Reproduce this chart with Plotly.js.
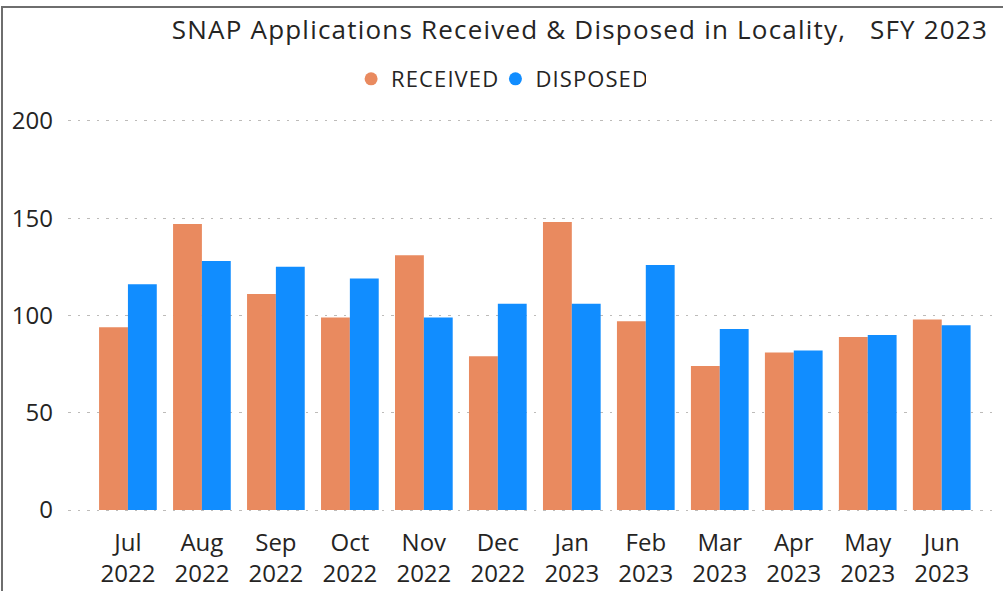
<!DOCTYPE html>
<html>
<head>
<meta charset="utf-8">
<script src="https://cdn.plot.ly/plotly-3.0.1.min.js"></script>
<style>
  html, body { margin: 0; padding: 0; background: #ffffff; }
  #wrap { position: relative; width: 1003px; height: 591px; overflow: hidden; }
  #chart { width: 1003px; height: 591px; }
  #bt { position: absolute; left: 1px; top: 6px; width: 1002px; height: 2px; background: #6e6e6e; }
  #bl { position: absolute; left: 1px; top: 6px; width: 2px; height: 585px; background: #6e6e6e; }
  #chart .gtitle { letter-spacing: 1.2px; }
  #chart .legendtext { letter-spacing: 1.1px; }
</style>
</head>
<body>
<div id="wrap">
  <div id="chart"></div>
  <div id="bt"></div>
  <div id="bl"></div>
</div>
<script>
const months = ["Jul<br>2022","Aug<br>2022","Sep<br>2022","Oct<br>2022","Nov<br>2022","Dec<br>2022",
                "Jan<br>2023","Feb<br>2023","Mar<br>2023","Apr<br>2023","May<br>2023","Jun<br>2023"];
const received = [94, 147, 111, 99, 131, 79, 148, 97, 74, 81, 89, 98];
const disposed = [116, 128, 125, 119, 99, 106, 106, 126, 93, 82, 90, 95];
const seriesNames = ["RECEIVED", "DISPOSED"];
const colors = ["#E98A5F", "#118DFF"];

const FONT = "Open Sans, Segoe UI, sans-serif";

const traces = [
  { type: "bar", x: months, y: received, name: seriesNames[0], marker: { color: colors[0] },
    showlegend: false, hoverinfo: "y" },
  { type: "bar", x: months, y: disposed, name: seriesNames[1], marker: { color: colors[1] },
    showlegend: false, hoverinfo: "y" },
  { type: "scatter", mode: "markers", x: [null], y: [null], name: seriesNames[0],
    marker: { color: colors[0], size: 13, symbol: "circle" }, showlegend: true },
  { type: "scatter", mode: "markers", x: [null], y: [null], name: seriesNames[1],
    marker: { color: colors[1], size: 13, symbol: "circle" }, showlegend: true }
];

const layout = {
  width: 1003, height: 591,
  paper_bgcolor: "#ffffff", plot_bgcolor: "#ffffff",
  margin: { l: 68, r: 8, t: 119, b: 79, pad: 0 },
  font: { family: FONT, color: "#252423" },
  title: {
    text: "SNAP Applications Received &amp; Disposed in Locality,\u00A0\u00A0\u00A0SFY 2023",
    font: { family: FONT, size: 26, color: "#252423" },
    xref: "container", x: 988 / 1003, xanchor: "right",
    yref: "container", y: 1 - 30 / 591, yanchor: "middle"
  },
  barmode: "group",
  bargap: 0.22,
  bargroupgap: 0,
  xaxis: {
    type: "category",
    range: [-0.81, 11.72],
    showgrid: false, zeroline: false, showline: false,
    ticks: "", tickfont: { family: FONT, size: 24, color: "#252423" },
    ticklabelstandoff: 14
  },
  yaxis: {
    range: [-1, 201],
    tickvals: [0, 50, 100, 150, 200],
    showgrid: true, gridcolor: "#BDBBB9", griddash: "2.5px,7px", gridwidth: 1,
    zeroline: false, showline: false, ticks: "",
    tickfont: { family: FONT, size: 24, color: "#252423" },
    ticklabelstandoff: 14
  },
  legend: {
    orientation: "h",
    x: 0.4645, xanchor: "center",
    y: (512 - 79) / 393, yanchor: "middle",
    font: { family: FONT, size: 22, color: "#252423" },
    itemwidth: 30, traceorder: "normal",
    bgcolor: "rgba(0,0,0,0)"
  },
  showlegend: true
};

Plotly.newPlot("chart", traces, layout, { displayModeBar: false, staticPlot: true });
</script>
</body>
</html>
